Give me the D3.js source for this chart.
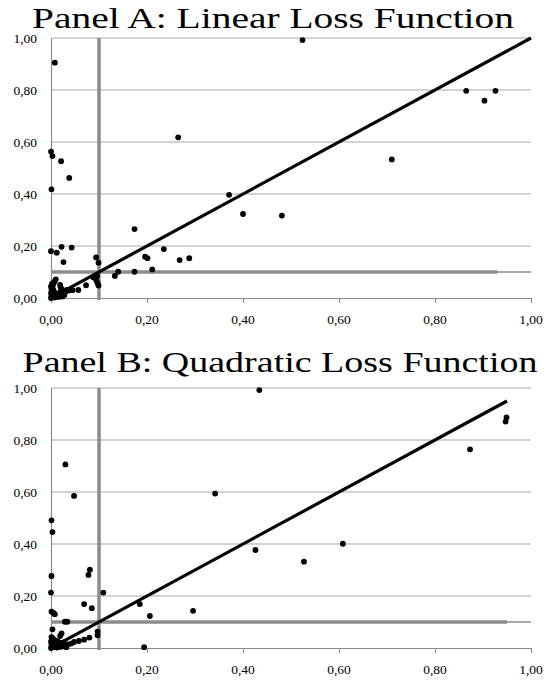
<!DOCTYPE html>
<html>
<head>
<meta charset="utf-8">
<script src="https://cdn.jsdelivr.net/npm/d3@7"></script>
</head>
<body style="margin:0">
<svg id="chart" width="544" height="680"></svg>
<script>
// ---------- data ----------
const titles = ["Panel A: Linear Loss Function", "Panel B: Quadratic Loss Function"];
const tickValues = [0, 0.2, 0.4, 0.6, 0.8, 1.0];
const tickLabels = ["0,00", "0,20", "0,40", "0,60", "0,80", "1,00"];
const threshold = 0.10;

// Panel A
const aX = [0.008, 0.000, 0.003, 0.021, 0.038, 0.001, 0.265, 0.371, 0.400, 0.174,
            0.000, 0.012, 0.022, 0.043, 0.026, 0.094, 0.099, 0.235, 0.196, 0.201,
            0.268, 0.288, 0.211, 0.174, 0.140, 0.133, 0.088, 0.094, 0.097, 0.099,
            0.096, 0.073, 0.057, 0.036, 0.033, 0.019, 0.020, 0.045,
            0.524, 0.865, 0.903, 0.926, 0.710, 0.481,
            0.000, 0.002, 0.004, 0.001, 0.003, 0.000, 0.002, 0.005, 0.001, 0.003,
            0.000, 0.004, 0.002, 0.006, 0.008, 0.010, 0.007, 0.010, 0.013, 0.016,
            0.020, 0.024, 0.012, 0.018, 0.022, 0.028, 0.030, 0.005, 0.009];
const aY = [0.905, 0.563, 0.546, 0.526, 0.462, 0.418, 0.618, 0.397, 0.323, 0.265,
            0.180, 0.174, 0.197, 0.194, 0.138, 0.156, 0.136, 0.188, 0.159, 0.153,
            0.146, 0.153, 0.110, 0.101, 0.101, 0.085, 0.080, 0.069, 0.058, 0.048,
            0.085, 0.049, 0.031, 0.028, 0.031, 0.050, 0.040, 0.030,
            0.992, 0.797, 0.759, 0.797, 0.533, 0.317,
            0.000, 0.003, 0.006, 0.010, 0.015, 0.020, 0.025, 0.030, 0.035, 0.040,
            0.045, 0.050, 0.055, 0.060, 0.065, 0.072, 0.002, 0.005, 0.008, 0.004,
            0.010, 0.006, 0.015, 0.020, 0.035, 0.012, 0.025, 0.012, 0.020];

// Panel B
const bX = [0.434, 0.030, 0.048, 0.342, 0.001, 0.003, 0.426, 0.001, 0.081, 0.078,
            0.000, 0.109, 0.069, 0.085, 0.185, 0.206, 0.296, 0.194, 0.001, 0.005,
            0.008, 0.029, 0.034, 0.003, 0.022, 0.019, 0.097, 0.097, 0.080, 0.069,
            0.058, 0.048, 0.042, 0.035,
            0.949, 0.947, 0.873, 0.608, 0.527,
            0.000, 0.002, 0.004, 0.001, 0.003, 0.000, 0.002, 0.004, 0.001, 0.006,
            0.009, 0.012, 0.015, 0.018, 0.021, 0.025, 0.028, 0.032, 0.010, 0.014,
            0.008, 0.018, 0.026, 0.030];
const bY = [0.992, 0.706, 0.585, 0.594, 0.491, 0.446, 0.377, 0.277, 0.301, 0.281,
            0.213, 0.213, 0.169, 0.153, 0.169, 0.123, 0.143, 0.003, 0.140, 0.135,
            0.130, 0.101, 0.101, 0.072, 0.056, 0.046, 0.063, 0.049, 0.040, 0.032,
            0.027, 0.023, 0.017, 0.014,
            0.887, 0.871, 0.764, 0.401, 0.332,
            0.000, 0.004, 0.008, 0.012, 0.018, 0.024, 0.030, 0.036, 0.042, 0.003,
            0.006, 0.002, 0.009, 0.004, 0.012, 0.006, 0.015, 0.003, 0.018, 0.025,
            0.030, 0.020, 0.022, 0.010];

// extents of the reference lines (per panel)
const diagA = [0.01, 1.00];
const diagB = [0.01, 0.95];
const hThickEndA = 0.93;
const hThickEndB = 0.95;

// ---------- drawing ----------
const svg = d3.select("#chart");
const FONT = "Liberation Serif";

function panel(cfg) {
  const x = d3.scaleLinear().domain([0, 1]).range([51, 531]);
  const y = d3.scaleLinear().domain([0, 1]).range([cfg.bottom, cfg.top]);

  // horizontal gridlines
  svg.append("g").selectAll("line").data(tickValues.filter(d => d > 0)).join("line")
    .attr("x1", x(0)).attr("x2", x(1))
    .attr("y1", d => y(d)).attr("y2", d => y(d))
    .attr("stroke", "#c4c4c4").attr("stroke-width", 1.3);

  // x axis line and ticks
  const xAxis = d3.axisBottom(x).tickValues(tickValues)
    .tickFormat(() => "").tickSize(5).tickSizeOuter(0);
  const gx = svg.append("g").attr("transform", `translate(0,${cfg.bottom})`).call(xAxis);
  gx.selectAll("text").remove();
  gx.select(".domain").attr("stroke", "#8a8a8a").attr("stroke-width", 1.2);
  gx.selectAll(".tick line").attr("stroke", "#8a8a8a");

  // y axis line
  const yAxis = d3.axisLeft(y).tickValues(tickValues).tickFormat(() => "").tickSize(0);
  const gy = svg.append("g").attr("transform", `translate(${x(0)},0)`).call(yAxis);
  gy.selectAll("text").remove();
  gy.select(".domain").attr("stroke", "#8a8a8a").attr("stroke-width", 1.2);

  // threshold lines
  svg.append("line")
    .attr("x1", x(0)).attr("x2", x(1))
    .attr("y1", y(threshold)).attr("y2", y(threshold))
    .attr("stroke", "#8c8c8c").attr("stroke-width", 1.5);
  svg.append("line")
    .attr("x1", x(0)).attr("x2", x(cfg.hEnd))
    .attr("y1", y(threshold)).attr("y2", y(threshold))
    .attr("stroke", "#8c8c8c").attr("stroke-width", 3.5);
  svg.append("line")
    .attr("x1", x(threshold)).attr("x2", x(threshold))
    .attr("y1", y(1)).attr("y2", y(0) + 2)
    .attr("stroke", "#8c8c8c").attr("stroke-width", 3.5);

  // points
  const pts = cfg.xs.map((v, i) => ({ x: v, y: cfg.ys[i] }));
  svg.append("g").selectAll("circle").data(pts).join("circle")
    .attr("cx", d => x(d.x)).attr("cy", d => y(d.y)).attr("r", 2.9)
    .attr("fill", "#000");

  // 45-degree line
  svg.append("line")
    .attr("x1", x(cfg.diag[0])).attr("y1", y(cfg.diag[0]))
    .attr("x2", x(cfg.diag[1])).attr("y2", y(cfg.diag[1]))
    .attr("stroke", "#000").attr("stroke-width", 3.2);

  // tick labels
  svg.selectAll(null).data(tickValues).enter().append("text")
    .attr("x", d => x(d)).attr("y", cfg.bottom + 26)
    .attr("text-anchor", "middle").attr("fill", "#000")
    .attr("font-family", FONT).attr("font-size", 13.5)
    .text((d, i) => tickLabels[i]);
  svg.selectAll(null).data(tickValues).enter().append("text")
    .attr("x", x(0) - 14).attr("y", d => y(d) + 4.5)
    .attr("text-anchor", "end").attr("fill", "#000")
    .attr("font-family", FONT).attr("font-size", 13.5)
    .text((d, i) => tickLabels[i]);

  // title
  svg.append("text")
    .attr("x", cfg.titleX).attr("y", cfg.titleY)
    .attr("text-anchor", "middle").attr("fill", "#000")
    .attr("font-family", FONT).attr("font-size", 30)
    .attr("textLength", cfg.titleW).attr("lengthAdjust", "spacingAndGlyphs")
    .text(cfg.title);
}

panel({ title: titles[0], top: 38, bottom: 298, titleX: 273, titleY: 28, titleW: 482,
        xs: aX, ys: aY, diag: diagA, hEnd: hThickEndA });
panel({ title: titles[1], top: 388, bottom: 648, titleX: 280, titleY: 372, titleW: 515,
        xs: bX, ys: bY, diag: diagB, hEnd: hThickEndB });
</script>
</body>
</html>
